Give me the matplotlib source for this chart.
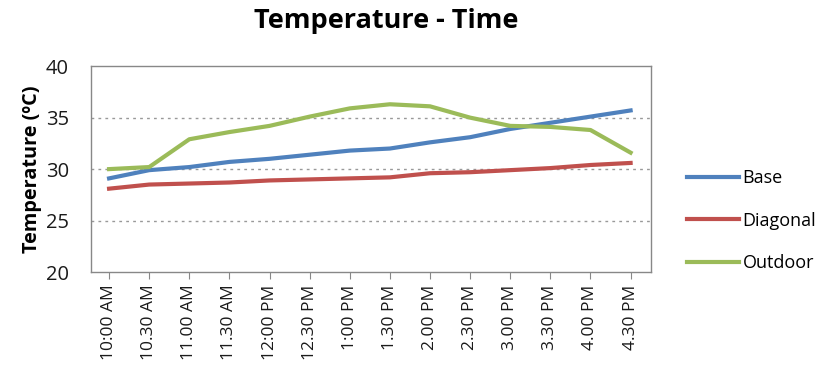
import matplotlib
matplotlib.use("Agg")
import matplotlib.pyplot as plt

# time of day (x categories)
times = ["10:00 AM", "10.30 AM", "11.00 AM", "11.30 AM", "12:00 PM", "12.30 PM",
         "1:00 PM", "1.30 PM", "2.00 PM", "2.30 PM", "3.00 PM", "3.30 PM",
         "4.00 PM", "4.30 PM"]

# temperatures
base = [29.1, 29.9, 30.2, 30.7, 31.0, 31.4, 31.8, 32.0, 32.6, 33.1, 33.9, 34.5, 35.1, 35.7]
diagonal = [28.1, 28.5, 28.6, 28.7, 28.9, 29.0, 29.1, 29.2, 29.6, 29.7, 29.9, 30.1, 30.4, 30.6]
outdoor = [30.0, 30.2, 32.9, 33.6, 34.2, 35.1, 35.9, 36.3, 36.1, 35.0, 34.2, 34.1, 33.8, 31.6]

plt.rcParams['font.family'] = ['Open Sans', 'DejaVu Sans']

fig = plt.figure(figsize=(8.23, 3.87), dpi=100)
ax = fig.add_axes([0.1106, 0.297, 0.680, 0.532])

x = list(range(len(times)))
ax.plot(x, base, color='#4F81BD', lw=3, label='Base')
ax.plot(x, diagonal, color='#C0504D', lw=3, label='Diagonal')
ax.plot(x, outdoor, color='#9BBB59', lw=3, label='Outdoor')

ax.set_ylim(20, 40)
ax.set_yticks([20, 25, 30, 35, 40])
ax.set_xlim(-0.45, len(times) - 0.5)
ax.set_xticks(x)
ax.set_xticklabels(times, rotation=90, fontsize=12.5, color='#1a1a1a')
ax.tick_params(axis='y', labelsize=14.5, length=0, pad=16, colors='#1a1a1a')
ax.tick_params(axis='x', length=5, color='#888888', pad=4)

# dotted horizontal gridlines
for v in [25, 30, 35]:
    ax.axhline(v, color='#999999', lw=1, ls=(0, (2, 3)), zorder=0)

for s in ax.spines.values():
    s.set_color('#888888')
    s.set_linewidth(1)

ax.set_ylabel('Temperature (ºC)', fontsize=14.3, fontweight='bold', labelpad=3)
fig.suptitle('Temperature - Time', fontsize=19.5, fontweight='bold', x=0.469, y=0.98)

ax.legend(loc='center left', bbox_to_anchor=(1.035, 0.25), frameon=False,
          fontsize=13, labelspacing=1.35, handlelength=2.9, handletextpad=0.2)

fig.savefig('out.png', dpi=100)
